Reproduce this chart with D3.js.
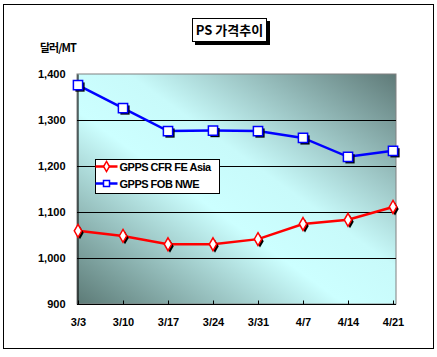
<!DOCTYPE html>
<html>
<head>
<meta charset="utf-8">
<script src="https://cdn.jsdelivr.net/npm/d3@7"></script>
<style>
  body { margin: 0; background: #fff; }
  svg { display: block; }
  text { font-family: "Liberation Sans Narrow", "Liberation Sans", Arial, sans-serif; font-weight: bold; }
</style>
</head>
<body>
<div id="chart"></div>
<script>
// chart data
const categories = ["3/3", "3/10", "3/17", "3/24", "3/31", "4/7", "4/14", "4/21"];
const cfrAsia = [1059, 1048, 1030, 1030, 1041, 1074, 1083, 1111];
const fobNwe = [1376, 1326, 1276, 1277, 1276, 1261, 1220, 1233];
const yTicks = [900, 1000, 1100, 1200, 1300, 1400];
const seriesNames = ["GPPS CFR FE Asia", "GPPS FOB NWE"];

const width = 437, height = 357;
const plot = { left: 77, right: 396, top: 74, bottom: 304 };

const svg = d3.select("#chart").append("svg")
    .attr("width", width)
    .attr("height", height);

// background gradient for the plot area
const defs = svg.append("defs");
const grad = defs.append("linearGradient")
    .attr("id", "bg")
    .attr("x1", "0").attr("y1", "1")
    .attr("x2", "1").attr("y2", "0");
grad.append("stop").attr("offset", "0").attr("stop-color", "#5c7a76");
grad.append("stop").attr("offset", "0.42").attr("stop-color", "#ccffff");
grad.append("stop").attr("offset", "0.58").attr("stop-color", "#c8fafa");
grad.append("stop").attr("offset", "1").attr("stop-color", "#5f7a78");

// outer frame
svg.append("rect")
    .attr("x", 3.5).attr("y", 4.5)
    .attr("width", 430).attr("height", 344)
    .attr("fill", "#fff")
    .attr("stroke", "#000");

// title box with shadow
svg.append("rect")
    .attr("x", 195).attr("y", 21)
    .attr("width", 75).attr("height", 24)
    .attr("fill", "#000");
svg.append("rect")
    .attr("x", 192.5).attr("y", 18.5)
    .attr("width", 74).attr("height", 23)
    .attr("fill", "#fff")
    .attr("stroke", "#000");
svg.append("text")
    .attr("x", 229.5).attr("y", 35)
    .attr("text-anchor", "middle")
    .attr("font-size", 13)
    .style("font-family", "'Noto Sans CJK KR', sans-serif")
    .text("PS 가격추이");

// scales
const x = d3.scalePoint()
    .domain(categories)
    .range([plot.left + 1, plot.right - 3]);
const y = d3.scaleLinear()
    .domain([900, 1400])
    .range([plot.bottom, plot.top]);

// plot area
svg.append("rect")
    .attr("x", plot.left).attr("y", plot.top)
    .attr("width", plot.right - plot.left)
    .attr("height", plot.bottom - plot.top)
    .attr("fill", "url(#bg)")
    .attr("stroke", "#808080");

// gridlines
svg.append("g")
    .selectAll("line")
    .data(yTicks.filter(d => d > 900 && d < 1400))
    .join("line")
    .attr("x1", plot.left).attr("x2", plot.right)
    .attr("y1", d => Math.round(y(d)) + 0.5)
    .attr("y2", d => Math.round(y(d)) + 0.5)
    .attr("stroke", "#000");

// y axis
const yAxis = svg.append("g")
    .attr("transform", `translate(${plot.left + 0.5},0)`)
    .call(d3.axisLeft(y).tickValues(yTicks).tickSize(0).tickPadding(12)
        .tickFormat(d3.format(",")));
yAxis.select(".domain").attr("stroke", "#000");
yAxis.selectAll("text").attr("font-size", 11).attr("fill", "#000")
    .style("font-family", "'Liberation Sans Narrow', Arial, sans-serif")
    .style("font-weight", "bold");

// x axis
const xAxis = svg.append("g")
    .attr("transform", `translate(0,${plot.bottom + 0.5})`)
    .call(d3.axisBottom(x).tickSizeInner(-4).tickSizeOuter(0).tickPadding(14));
xAxis.select(".domain").attr("stroke", "#000")
    .attr("d", `M${plot.left},0H${plot.right}`);
xAxis.selectAll(".tick line").attr("stroke", "#000");
xAxis.selectAll("text").attr("font-size", 11).attr("fill", "#000")
    .style("font-family", "'Liberation Sans Narrow', Arial, sans-serif")
    .style("font-weight", "bold");

// y axis unit
svg.append("text")
    .attr("x", 40).attr("y", 52)
    .attr("font-size", 11)
    .style("font-family", "'Noto Sans CJK KR', sans-serif")
    .attr("letter-spacing", -1)
    .text("달러/MT");

// series
const line = d3.line()
    .x((d, i) => x(categories[i]))
    .y(d => y(d));

function drawSeries(values, color, shape) {
    svg.append("path")
        .datum(values)
        .attr("fill", "none")
        .attr("stroke", color)
        .attr("stroke-width", 2.5)
        .attr("d", line);

    const sym = d3.symbol()
        .type(shape === "square" ? d3.symbolSquare : d3.symbolDiamond)
        .size(shape === "square" ? 85 : 48);

    // shadows
    svg.append("g").selectAll("path")
        .data(values)
        .join("path")
        .attr("transform", (d, i) => `translate(${x(categories[i]) + 2},${y(d) + 2})`)
        .attr("d", sym)
        .attr("fill", "#000");

    svg.append("g").selectAll("path")
        .data(values)
        .join("path")
        .attr("transform", (d, i) => `translate(${x(categories[i])},${y(d)})`)
        .attr("d", sym)
        .attr("fill", "#fff")
        .attr("stroke", color)
        .attr("stroke-width", 1.5);
}

drawSeries(cfrAsia, "#ff0000", "diamond");
drawSeries(fobNwe, "#0000ff", "square");

// legend
const legend = svg.append("g").attr("transform", "translate(95.5,159.5)");
legend.append("rect")
    .attr("width", 124).attr("height", 34)
    .attr("fill", "#fff")
    .attr("stroke", "#000");

const legendItems = [
    { name: seriesNames[0], color: "#ff0000", shape: d3.symbolDiamond, size: 30 },
    { name: seriesNames[1], color: "#0000ff", shape: d3.symbolSquare, size: 36 }
];
legendItems.forEach((item, i) => {
    const g = legend.append("g").attr("transform", `translate(0,${7 + i * 17})`);
    g.append("line")
        .attr("x1", 0).attr("x2", 22)
        .attr("stroke", item.color)
        .attr("stroke-width", 2.5);
    g.append("path")
        .attr("transform", "translate(11,0)")
        .attr("d", d3.symbol().type(item.shape).size(item.size))
        .attr("fill", "#fff")
        .attr("stroke", item.color)
        .attr("stroke-width", 1.5);
    g.append("text")
        .attr("x", 24).attr("y", 4)
        .attr("font-size", 11)
        .attr("letter-spacing", -0.5)
        .style("font-family", "'Liberation Sans Narrow', Arial, sans-serif")
        .text(item.name);
});
</script>
</body>
</html>
